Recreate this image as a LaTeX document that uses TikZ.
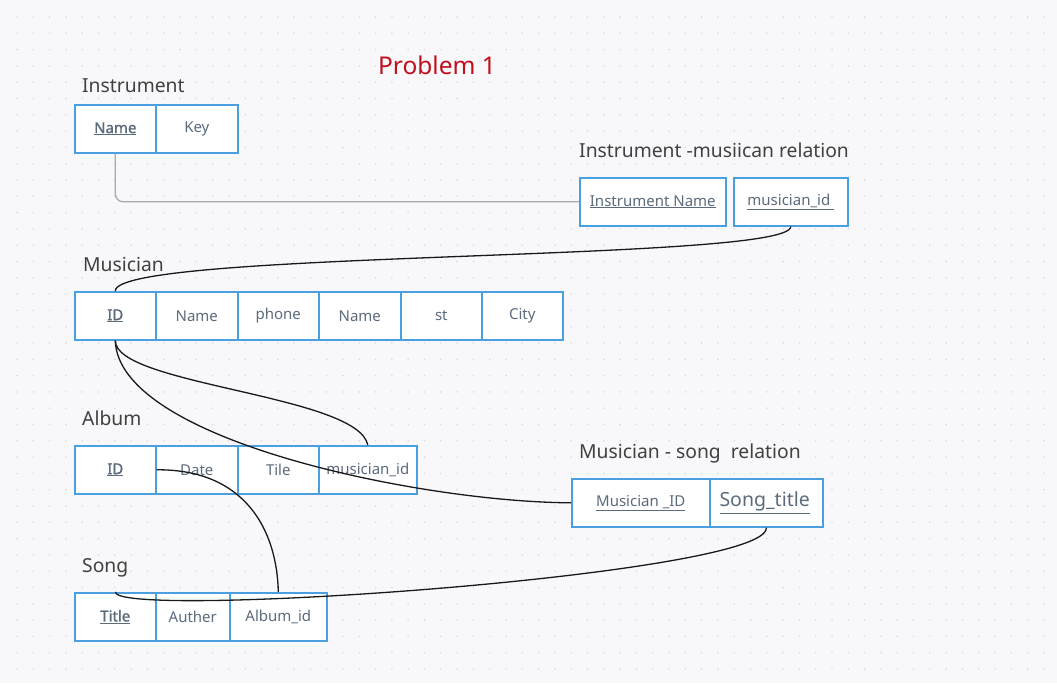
\documentclass[tikz,border=0pt]{standalone}
\usepackage{fontspec}
\setmainfont{Noto Sans}[AutoFakeBold=1.2]
\definecolor{bgc}{HTML}{F8F8FA}
\definecolor{dotc}{HTML}{DADAE2}
\definecolor{boxc}{HTML}{4A9FE0}
\definecolor{celltxt}{HTML}{5C6B7C}
\definecolor{titletxt}{HTML}{404040}
\definecolor{probred}{HTML}{C0101E}
\definecolor{linkgray}{HTML}{AAAAAA}
\newcommand{\keyf}[1]{\underline{#1}}
\newcommand{\pkey}[1]{\underline{\textbf{#1}}}
\tikzset{
  cell/.style={draw=boxc, line width=1.6pt, fill=white, anchor=north west,
    minimum height=48pt, inner sep=0pt, text=celltxt, font=\fontsize{15}{17}\selectfont},
  ttl/.style={anchor=base west, inner sep=0pt, text=titletxt, font=\fontsize{19.3}{22}\selectfont},
  link/.style={line width=1.3pt, draw=black!90},
}
\begin{document}
\begin{tikzpicture}[x=1pt,y=-1pt]
\useasboundingbox (0,0) rectangle (1057,683);
\fill[bgc] (0,0) rectangle (1057,683);
\foreach \i in {0,...,64}{
  \foreach \j in {0,...,41}{
    \fill[dotc] (17+16.3*\i, 17+16.3*\j) circle (0.9);
  }
}
% title
\node[anchor=base, text=probred, font=\fontsize{24.5}{28}\selectfont, inner sep=0pt] (prob) at (437,74) {Problem 1};

% Instrument
\node[ttl] (tInst) at (82,92) {Instrument};
\node[cell, minimum width=81] (i1) at (74,104) {\pkey{Name}};
\node[cell, minimum width=82] (i2) at (155,104) {Key};

% Instrument-musician relation
\node[ttl] (tIM) at (579,157) {Instrument -musiican relation};
\node[cell, minimum width=146] (im1) at (579,177) {\keyf{Instrument Name}};
\node[cell, minimum width=114] (im2) at (733,177) {\keyf{musician\_id\ }};

% Musician
\node[ttl] (tMus) at (83,271) {Musician};
\node[cell, minimum width=81] (m1) at (74,291) {\pkey{ID}};
\node[cell, minimum width=82] (m2) at (155,291) {Name};
\node[cell, minimum width=81] (m3) at (237,291) {phone};
\node[cell, minimum width=82] (m4) at (318,291) {Name};
\node[cell, minimum width=81] (m5) at (400,291) {st};
\node[cell, minimum width=81] (m6) at (481,291) {City};

% Album
\node[ttl] (tAlb) at (82,425) {Album};
\node[cell, minimum width=81] (a1) at (74,445) {\pkey{ID}};
\node[cell, minimum width=82] (a2) at (155,445) {Date};
\node[cell, minimum width=81] (a3) at (237,445) {Tile};
\node[cell, minimum width=98] (a4) at (318,445) {musician\_id};

% Musician - song relation
\node[ttl] (tMS) at (579,458) {Musician - song\ \ relation};
\node[cell, minimum width=138] (ms1) at (571,478) {\keyf{Musician \_ID}};
\node[cell, minimum width=113, font=\fontsize{19.5}{21}\selectfont] (ms2) at (709,478) {\keyf{Song\_title}\,};

% Song
\node[ttl] (tSong) at (82,572) {Song};
\node[cell, minimum width=81] (s1) at (74,592) {\pkey{Title}};
\node[cell, minimum width=74] (s2) at (155,592) {Auther};
\node[cell, minimum width=97] (s3) at (229,592) {Album\_id};

% connectors
\draw[line width=1.3pt, draw=linkgray, rounded corners=8pt] (i1.south) |- (im1.west);
\draw[link] (im2.south) .. controls (790,262) and (115,250) .. (m1.north);
\draw[link] (m1.south) .. controls (115,385) and (358,395) .. (a4.north);
\draw[link] (m1.south) .. controls (118,440) and (420,502) .. (ms1.west);
\draw[link] (a1.east) .. controls (245,469) and (277,530) .. (s3.north);
\draw[link] (ms2.south) .. controls (770,575) and (115,620) .. (s1.north);
\end{tikzpicture}
\end{document}
